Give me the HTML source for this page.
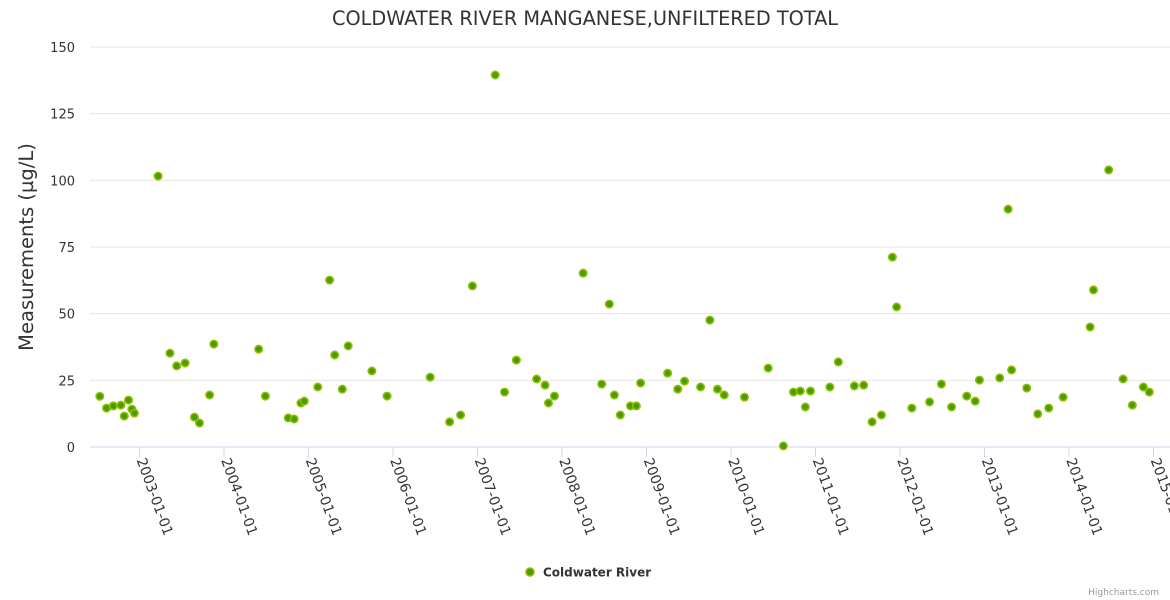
<!DOCTYPE html>
<html><head><meta charset="utf-8"><style>body{margin:0;background:#fff}svg{display:block;font-family:"DejaVu Sans","Liberation Sans",sans-serif}</style></head>
<body>
<svg id="chart" width="1170" height="600">
<rect width="1170" height="600" fill="#fff"/>
<text x="585" y="25" text-anchor="middle" font-size="19.3" fill="#333">COLDWATER RIVER MANGANESE,UNFILTERED TOTAL</text>
<text transform="translate(33,247) rotate(-90)" text-anchor="middle" font-size="19.5" fill="#333">Measurements (µg/L)</text>
<g id="grid"></g><g id="xaxis"></g><g id="points"></g>
<g>
<circle cx="530" cy="572" r="4" fill="#4c9a00" stroke="#8cc000" stroke-width="1.5"/>
<text x="543" y="576.5" font-size="12" font-weight="bold" fill="#333">Coldwater River</text></g>
<text x="1159" y="595" text-anchor="end" font-size="9" fill="#999">Highcharts.com</text>
</svg>
<script>
const yTicks=[0,25,50,75,100,125,150];
const xTickYears=[2003,2004,2005,2006,2007,2008,2009,2010,2011,2012,2013,2014,2015];
const dates=[2002.53,2002.61,2002.69,2002.78,2002.82,2002.87,2002.91,2002.94,2003.22,2003.36,2003.44,2003.54,2003.65,2003.71,2003.83,2003.88,2004.41,2004.49,2004.76,2004.83,2004.91,2004.95,2005.11,2005.25,2005.31,2005.40,2005.47,2005.75,2005.93,2006.44,2006.67,2006.80,2006.94,2007.21,2007.32,2007.46,2007.70,2007.80,2007.84,2007.91,2008.25,2008.47,2008.56,2008.62,2008.69,2008.81,2008.88,2008.93,2009.25,2009.37,2009.45,2009.64,2009.75,2009.84,2009.92,2010.16,2010.44,2010.62,2010.74,2010.82,2010.88,2010.94,2011.17,2011.27,2011.46,2011.57,2011.67,2011.78,2011.91,2011.96,2012.14,2012.35,2012.49,2012.61,2012.79,2012.89,2012.94,2013.18,2013.28,2013.32,2013.50,2013.63,2013.76,2013.93,2014.25,2014.29,2014.47,2014.64,2014.75,2014.88,2014.95];
const values=[19,14.6,15.4,15.7,11.6,17.6,14.2,12.7,101.6,35.2,30.4,31.5,11.2,9,19.5,38.6,36.7,19.1,10.9,10.5,16.5,17.2,22.5,62.6,34.5,21.7,37.9,28.5,19.1,26.2,9.4,12,60.4,139.5,20.6,32.6,25.5,23.2,16.5,19.1,65.2,23.6,53.6,19.5,12,15.4,15.4,24,27.7,21.7,24.7,22.5,47.6,21.7,19.5,18.7,29.6,0.4,20.6,21,15,21,22.5,31.9,22.9,23.2,9.4,12,71.2,52.5,14.6,16.9,23.6,15,19.1,17.2,25.1,25.9,89.2,28.9,22.1,12.4,14.6,18.7,45,58.9,103.9,25.5,15.7,22.5,20.6];
const NS="http://www.w3.org/2000/svg";
const yS=v=>447-v*400/150;
const xS=t=>139.5+(t-2003)*84.5;
function mk(tag,attrs,parent){const e=document.createElementNS(NS,tag);for(const k in attrs)e.setAttribute(k,attrs[k]);parent.appendChild(e);return e;}
const grid=document.getElementById('grid');
yTicks.forEach(v=>{
  const l=mk('line',{x1:90,x2:1170,y1:yS(v),y2:yS(v),stroke:v===0?'#ccd6eb':'#e6e6e6','stroke-width':1},grid);
  
  
  const t=mk('text',{x:75,y:yS(v)+5,'text-anchor':'end','font-size':13,fill:'#333'},grid);
  t.textContent=v;
  
  
});
const xa=document.getElementById('xaxis');
xTickYears.forEach(yr=>{
  const x=xS(yr);
  const l=mk('line',{x1:x,x2:x,y1:447,y2:457,stroke:'#ccd6eb'},xa);
  
  
  const t=mk('text',{transform:`translate(${x-3},460) rotate(70)`,'font-size':14,fill:'#333'},xa);
  t.textContent=yr+'-01-01';
  
  
});
const pg=document.getElementById('points');
dates.forEach((d,i)=>{
  const c=mk('circle',{cx:xS(d),cy:yS(values[i]),r:3.7,fill:'#4c9a00',stroke:'#8cc000','stroke-width':1.6},pg);
  
  
});
</script>
</body></html>
